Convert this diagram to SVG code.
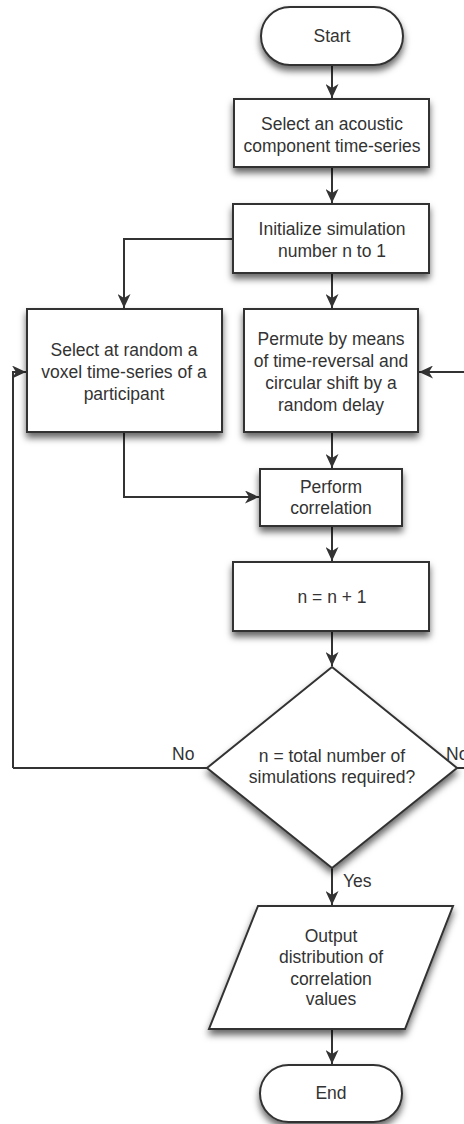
<svg xmlns="http://www.w3.org/2000/svg" width="464" height="1124" viewBox="0 0 464 1124">
<style>
.shape{fill:#fff;stroke:#333;stroke-width:2;filter:url(#sh)}
.t{font-family:"Liberation Sans",Arial,sans-serif;font-size:17.5px;fill:#333;text-anchor:middle}
.lbl{font-family:"Liberation Sans",Arial,sans-serif;font-size:17.5px;fill:#333}
.c{fill:none;stroke:#333;stroke-width:2}
</style>
<defs>
<filter id="sh" x="-20%" y="-20%" width="140%" height="150%">
<feDropShadow dx="0" dy="5" stdDeviation="3.5" flood-color="#000" flood-opacity="0.6"/>
</filter>
<marker id="ah" viewBox="0 0 14 13" refX="14" refY="6.5" markerWidth="14" markerHeight="13" markerUnits="userSpaceOnUse" orient="auto">
<path d="M0,0 L14,6.5 L0,13 L4,6.5 z" fill="#333"/>
</marker>
</defs>
<g id="connectors">
<path class="c" d="M332,65 V98" marker-end="url(#ah)"/>
<path class="c" d="M332,167 V203" marker-end="url(#ah)"/>
<path class="c" d="M233,239 H124 V308" marker-end="url(#ah)"/>
<path class="c" d="M332,273 V308" marker-end="url(#ah)"/>
<path class="c" d="M464,372 H419" marker-end="url(#ah)"/>
<path class="c" d="M13,768 V372 H26" marker-end="url(#ah)"/>
<path class="c" d="M124,432 V497 H259" marker-end="url(#ah)"/>
<path class="c" d="M332,432 V468" marker-end="url(#ah)"/>
<path class="c" d="M332,526 V561" marker-end="url(#ah)"/>
<path class="c" d="M332,631 V666" marker-end="url(#ah)"/>
<path class="c" d="M207,768 H13"/>
<path class="c" d="M457,768 H464"/>
<path class="c" d="M332,868 V905" marker-end="url(#ah)"/>
<path class="c" d="M332,1029 V1064" marker-end="url(#ah)"/>
<text class="lbl" x="172" y="760">No</text>
<text class="lbl" x="446" y="760">No</text>
<text class="lbl" x="343" y="887">Yes</text>
</g>
<g id="start">
<rect class="shape" x="261" y="7" width="142" height="58" rx="29"/>
<text class="t" x="332" y="42">Start</text>
</g>
<g id="select-acoustic">
<rect class="shape" x="234" y="99" width="195" height="68"/>
<text class="t" x="332" y="130">Select an acoustic</text>
<text class="t" x="332" y="152">component time-series</text>
</g>
<g id="init">
<rect class="shape" x="233" y="204" width="196" height="69"/>
<text class="t" x="332" y="235">Initialize simulation</text>
<text class="t" x="332" y="257">number n to 1</text>
</g>
<g id="select-voxel">
<rect class="shape" x="27" y="309" width="195" height="123"/>
<text class="t" x="124" y="356">Select at random a</text>
<text class="t" x="124" y="378">voxel time-series of a</text>
<text class="t" x="124" y="400">participant</text>
</g>
<g id="permute">
<rect class="shape" x="244" y="309" width="174" height="123"/>
<text class="t" x="331" y="345">Permute by means</text>
<text class="t" x="331" y="367">of time-reversal and</text>
<text class="t" x="331" y="389">circular shift by a</text>
<text class="t" x="331" y="411">random delay</text>
</g>
<g id="correlate">
<rect class="shape" x="260" y="469" width="142" height="57"/>
<text class="t" x="331" y="493">Perform</text>
<text class="t" x="331" y="514">correlation</text>
</g>
<g id="increment">
<rect class="shape" x="233" y="562" width="196" height="69"/>
<text class="t" x="332" y="603">n = n + 1</text>
</g>
<g id="decision">
<polygon class="shape" points="332,667 457,768 332,868 207,768"/>
<text class="t" x="332" y="762">n = total number of</text>
<text class="t" x="332" y="783">simulations required?</text>
</g>
<g id="output">
<polygon class="shape" points="258,906 453,906 405,1029 209,1029"/>
<text class="t" x="331" y="942">Output</text>
<text class="t" x="331" y="963">distribution of</text>
<text class="t" x="331" y="985">correlation</text>
<text class="t" x="331" y="1005">values</text>
</g>
<g id="end">
<rect class="shape" x="260" y="1065" width="142" height="57" rx="28.5"/>
<text class="t" x="331" y="1099">End</text>
</g>
</svg>
